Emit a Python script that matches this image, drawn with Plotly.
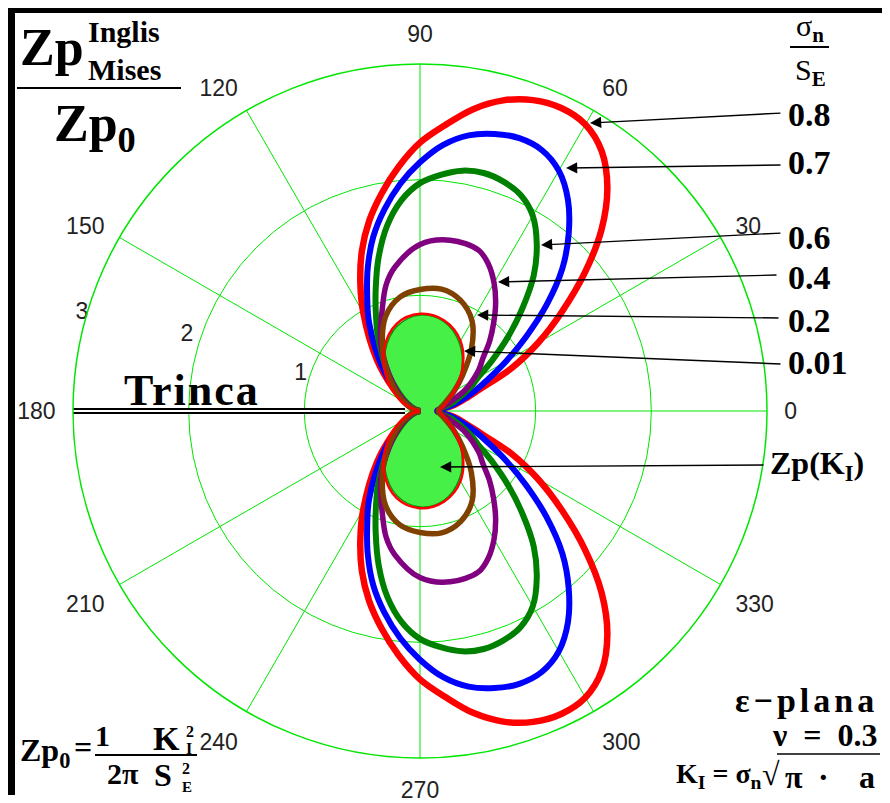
import plotly.graph_objects as go

W, H = 890, 803
OFF = 8  # the page body margin shifts the figure by 8 px

# ---------------- data ----------------
ang_ticks = [0, 30, 60, 90, 120, 150, 180, 210, 240, 270, 300, 330]
ang_labels = [str(a) for a in ang_ticks]
rad_ticks = [1, 2, 3]
rad_label_r = [1.08, 2.12, 2.99]
rad_label_th = [163, 162, 163.5]
rad_label_pos = ["middle center", "middle center", "middle left"]

# upper half of each plastic zone (theta in degrees, r in Zp/Zp0); lower half is the mirror image
th_kI = [0, 15, 30, 45, 60, 75, 90, 105, 120, 135, 150, 165, 180]
r_kI = [0.16, 0.21, 0.33, 0.51, 0.68, 0.80, 0.83, 0.76, 0.60, 0.40, 0.20, 0.05, 0.0]

th_001 = [0, 15, 30, 45, 60, 75, 90, 105, 120, 135, 150, 165, 180]
r_001 = [0.17, 0.22, 0.34, 0.52, 0.70, 0.81, 0.84, 0.78, 0.62, 0.41, 0.21, 0.06, 0.0]

th_02 = [0, 15, 30, 40, 50, 60, 70, 80, 90, 100, 110, 120, 130, 140, 150, 165, 180]
r_02 = [0.16, 0.21, 0.34, 0.48, 0.69, 0.90, 1.02, 1.07, 1.05, 1.0, 0.87, 0.65, 0.44, 0.28, 0.17, 0.06, 0.0]

th_04 = [0, 15, 25, 35, 40, 45, 50, 55, 60, 65, 70, 80, 90, 100, 105, 110, 120, 130, 140, 150, 165, 180]
r_04 = [0.16, 0.25, 0.43, 0.62, 0.71, 0.85, 0.99, 1.14, 1.28, 1.40, 1.48, 1.50, 1.44, 1.26, 1.13, 0.95, 0.68, 0.42, 0.25, 0.14, 0.05, 0.0]

th_06 = [0, 15, 25, 30, 35, 40, 45, 50, 55, 60, 65, 70, 75, 80, 85, 90, 95, 100, 105, 110, 115, 120, 130, 140, 150, 165, 180]
r_06 = [0.16, 0.30, 0.48, 0.58, 0.76, 0.99, 1.25, 1.53, 1.76, 1.95, 2.06, 2.11, 2.13, 2.11, 2.05, 1.97, 1.83, 1.63, 1.38, 1.12, 0.90, 0.72, 0.43, 0.23, 0.12, 0.04, 0.0]

th_07 = [0, 10, 20, 25, 30, 35, 40, 45, 50, 55, 60, 65, 70, 75, 80, 85, 90, 95, 100, 105, 110, 115, 120, 130, 140, 150, 165, 180]
r_07 = [0.15, 0.28, 0.50, 0.65, 0.86, 1.12, 1.43, 1.74, 2.00, 2.23, 2.40, 2.49, 2.51, 2.48, 2.42, 2.31, 2.15, 1.97, 1.77, 1.56, 1.32, 1.08, 0.88, 0.52, 0.27, 0.13, 0.04, 0.0]

th_08 = [0, 10, 15, 20, 25, 30, 35, 40, 45, 50, 55, 60, 65, 70, 75, 80, 85, 90, 95, 100, 105, 110, 115, 120, 130, 140, 150, 165, 180]
r_08 = [0.15, 0.30, 0.40, 0.55, 0.87, 1.18, 1.50, 1.86, 2.22, 2.52, 2.74, 2.86, 2.89, 2.86, 2.78, 2.65, 2.48, 2.32, 2.12, 1.91, 1.70, 1.47, 1.22, 0.98, 0.58, 0.30, 0.15, 0.05, 0.0]

crack_r = [0.13, 3.0]
crack_th = [180, 180]

GRID = "rgb(0,230,0)"
NB = "\u00a0"


def loop(th, r):
    """Close the upper half with its mirror image below the crack axis."""
    t_full = list(th) + [360 - t for t in reversed(th)]
    r_full = list(r) + list(reversed(r))
    return t_full, r_full


def P(x, y):
    """Reference-page pixel -> paper coordinates."""
    return (x - OFF) / W, 1 - (y - OFF) / H


fig = go.Figure()

t, r = loop(th_kI, r_kI)
fig.add_trace(go.Scatterpolar(theta=t, r=r, mode="lines", fill="toself",
                              fillcolor="rgb(70,240,70)",
                              line=dict(color="rgb(0,150,0)", width=1.5, shape="spline"),
                              hoverinfo="skip"))

curves = [
    (th_08, r_08, "#ff0000", 6.5),
    (th_07, r_07, "#0000ff", 6),
    (th_06, r_06, "#008000", 6),
    (th_04, r_04, "#800080", 5.5),
    (th_02, r_02, "#804000", 5.5),
    (th_001, r_001, "#ff0000", 2.5),
]
for th, rr, col, w in curves:
    t, r = loop(th, rr)
    fig.add_trace(go.Scatterpolar(theta=t, r=r, mode="lines",
                                  line=dict(color=col, width=w, shape="spline"),
                                  hoverinfo="skip"))

# crack: black-white-black double line
fig.add_trace(go.Scatterpolar(theta=crack_th, r=crack_r, mode="lines",
                              line=dict(color="black", width=6), hoverinfo="skip"))
fig.add_trace(go.Scatterpolar(theta=crack_th, r=crack_r, mode="lines",
                              line=dict(color="white", width=2), hoverinfo="skip"))

tickfont = dict(family="Liberation Sans", size=23, color="#222")

# radial tick labels
fig.add_trace(go.Scatterpolar(theta=rad_label_th, r=rad_label_r, mode="text",
                              text=[str(v) for v in rad_ticks], textfont=tickfont,
                              textposition=rad_label_pos,
                              cliponaxis=False, hoverinfo="skip"))

# polar circle: centre (420, 411), radius 347 in reference pixels
cx, cy, R = 420, 411, 347
x0, x1 = (cx - R - OFF) / W, (cx + R - OFF) / W
y0, y1 = 1 - (cy + R - OFF) / H, 1 - (cy - R - OFF) / H

fig.update_layout(
    width=W, height=H,
    margin=dict(l=0, r=0, t=0, b=0),
    paper_bgcolor="white",
    showlegend=False,
    polar=dict(
        domain=dict(x=[x0, x1], y=[y0, y1]),
        bgcolor="white",
        angularaxis=dict(rotation=0, direction="counterclockwise",
                         tickmode="array", tickvals=ang_ticks, ticktext=ang_labels,
                         showgrid=True, gridcolor=GRID, gridwidth=1.2,
                         showline=True, linecolor=GRID, linewidth=1.5,
                         ticks="outside", ticklen=12, tickcolor="rgba(0,0,0,0)",
                         tickfont=tickfont),
        radialaxis=dict(range=[0, 3], tickmode="array", tickvals=rad_ticks,
                        showticklabels=False,
                        showgrid=True, gridcolor=GRID, gridwidth=1.2,
                        showline=False, ticks="", angle=163),
    ),
)

SERIF = "Liberation Serif"
ann = []


def text(x, y, s, size, xanchor="left", yanchor="middle", bold=True):
    px, py = P(x, y)
    ann.append(dict(x=px, y=py, xref="paper", yref="paper", text=(f"<b>{s}</b>" if bold else s),
                    showarrow=False, xanchor=xanchor, yanchor=yanchor,
                    font=dict(family=SERIF, size=size, color="black")))


def arrow(tail, tip):
    px, py = P(*tip)
    ann.append(dict(x=px, y=py, xref="paper", yref="paper", text="",
                    showarrow=True, ax=tail[0] - tip[0], ay=tail[1] - tip[1],
                    arrowhead=2, arrowsize=1.6, arrowwidth=1.4, arrowcolor="black"))


# series labels and arrows
labels = [("0.8", 115, (782, 113), (590, 123)),
          ("0.7", 162, (782, 165), (566, 168)),
          ("0.6", 237, (782, 233), (541, 245)),
          ("0.4", 277, (778, 275), (498, 282)),
          ("0.2", 320, (780, 318), (477, 315)),
          ("0.01", 362, (782, 364), (464, 351))]
for s, y, tail, tip in labels:
    text(786, y, s, 34)
    arrow(tail, tip)
text(768, 466, "Zp(K<sub>I</sub>)", 32)
arrow((765, 465), (440, 467))

# top-left legend
text(18, 48, "Zp", 52)
text(86, 31, "Inglis", 30)
text(86, 70, "Mises", 30)
text(52, 127, "Zp<sub>0</sub>", 52)

# top-right
text(810, 28, "σ<sub><b>n</b></sub>", 30, xanchor="center", bold=False)
text(810, 72, "S<sub><b>E</b></sub>", 30, xanchor="center", bold=False)

# Trinca
text(192, 390, "<span style='letter-spacing:2px'>Trinca</span>", 44, xanchor="center")

# bottom-left formula
text(18, 752, "Zp<sub>0</sub>", 32)
text(83, 747, "=", 32, xanchor="center")
text(102, 735, "1", 30, xanchor="center")
text(123, 773, "2π", 30, xanchor="center")
text(151, 738, "K", 34)
text(184, 731, "2", 16)
text(184, 748, "I", 16)
text(152, 775, "S", 32)
text(180, 768, "2", 16)
text(180, 787, "E", 15)

# bottom-right
text(880, 700, "<span style='letter-spacing:4px'>ε−plana</span>", 34, xanchor="right")
text(880, 735, f"ν{NB}{NB}={NB}{NB}0.3", 32, xanchor="right")
text(764, 775, f"K<sub>I</sub>{NB}={NB}σ<sub>n</sub>", 28, xanchor="right")
text(771, 774, "√", 32, xanchor="center", bold=False)
text(794, 777, "π", 32, xanchor="center")
text(823, 777, "·", 32, xanchor="center")
text(867, 777, "a", 32, xanchor="center")

fig.update_layout(annotations=ann)

shapes = []


def pline(xa, ya, xb, yb, w=2, col="black"):
    a, b = P(xa, ya)
    c, d = P(xb, yb)
    shapes.append(dict(type="line", xref="paper", yref="paper", x0=a, y0=b, x1=c, y1=d,
                       line=dict(color=col, width=w)))


def prect(xa, ya, xb, yb):
    a, b = P(xa, ya)
    c, d = P(xb, yb)
    shapes.append(dict(type="rect", xref="paper", yref="paper", x0=a, y0=b, x1=c, y1=d,
                       fillcolor="black", line=dict(width=0)))


prect(8, 8, 890, 13)
prect(8, 8, 15, 795)
pline(17, 88, 181, 88, 2)
pline(790, 47, 829, 47, 2)
pline(95, 755, 150, 755, 2)
pline(150, 755, 197, 755, 2)
pline(777, 754, 880, 754, 1.5)
fig.update_layout(shapes=shapes)

fig.write_html("out.html")
